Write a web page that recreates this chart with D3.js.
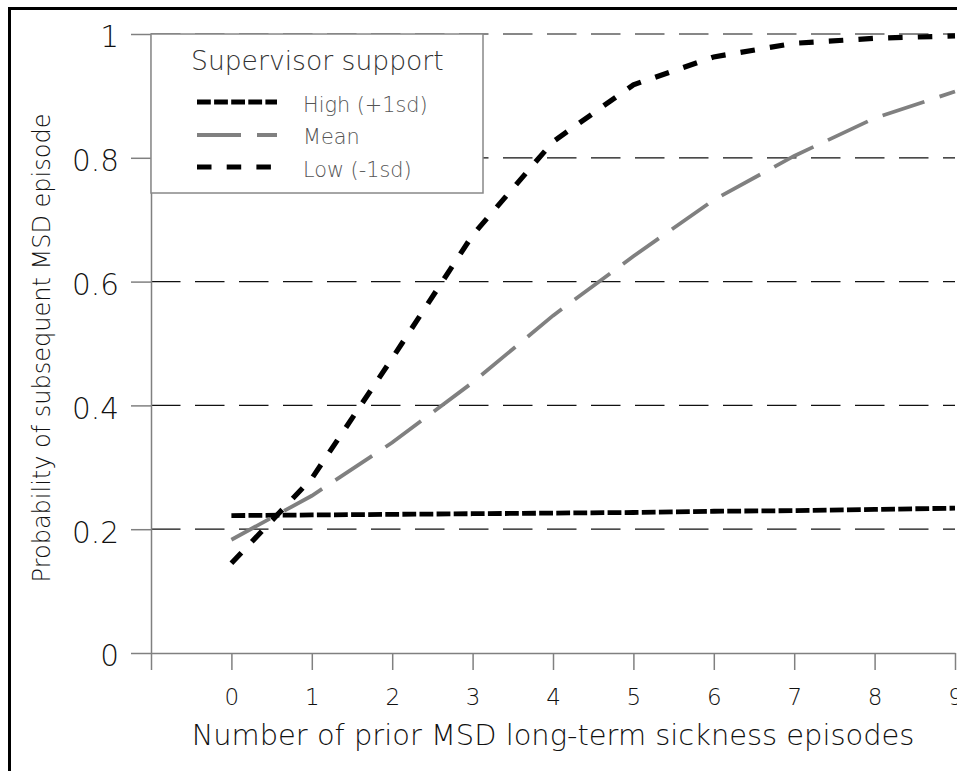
<!DOCTYPE html>
<html>
<head>
<meta charset="utf-8">
<script src="https://cdn.jsdelivr.net/npm/d3@7/dist/d3.min.js"></script>
<style>
  html, body { margin: 0; padding: 0; background: #fff; overflow: hidden; }
  svg { display: block; }
  text { font-family: "DejaVu Sans", Verdana, sans-serif; font-weight: 200; }
</style>
</head>
<body>
<svg id="chart" width="957" height="771"></svg>
<script>
// ---- data ----
const episodes = [0, 1, 2, 3, 4, 5, 6, 7, 8, 9];
const highSupport = [0.222, 0.223, 0.224, 0.225, 0.226, 0.227, 0.229, 0.230, 0.232, 0.234];
const meanSupport = [0.183, 0.254, 0.340, 0.437, 0.545, 0.641, 0.732, 0.803, 0.864, 0.907];
const lowSupport  = [0.145, 0.282, 0.476, 0.675, 0.826, 0.918, 0.963, 0.985, 0.993, 0.997];
const seriesNames = ["High (+1sd)", "Mean", "Low (-1sd)"];
const yTicks = [0, 0.2, 0.4, 0.6, 0.8, 1];
const xTicks = [-1, 0, 1, 2, 3, 4, 5, 6, 7, 8, 9];
const gridValues = [0.2, 0.4, 0.6, 0.8, 1];
const legendTitle = "Supervisor support";
const xTitle = "Number of prior MSD long-term sickness episodes";
const yTitle = "Probability of subsequent MSD episode";

// ---- styles ----
const styles = [
  { color: "#000", width: 4.8, dash: "13.8,3.3" },
  { color: "#808080", width: 3.8, dash: "44,16" },
  { color: "#000", width: 5.2, dash: "14.5,15.2" }
];

const svg = d3.select("#chart");
const x = d3.scaleLinear().domain([-1, 9]).range([151, 955]);
const y = d3.scaleLinear().domain([0, 1]).range([653, 34]);

// outer frame
svg.append("rect")
  .attr("x", 9.5).attr("y", 8.5)
  .attr("width", 3000).attr("height", 3000)
  .attr("fill", "none").attr("stroke", "#000").attr("stroke-width", 3);

// gridlines
svg.append("g").selectAll("line").data(gridValues).join("line")
  .attr("x1", x(-1)).attr("x2", x(9))
  .attr("y1", d => y(d)).attr("y2", d => y(d))
  .attr("stroke", "#111").attr("stroke-width", 1.2)
  .attr("stroke-dasharray", "29.5,14.5");

// axes
const yAxis = svg.append("g").attr("transform", `translate(${x(-1)},0)`)
  .call(d3.axisLeft(y).tickValues(yTicks).tickSize(20).tickSizeOuter(0).tickPadding(12)
        .tickFormat(d => d3.format("~g")(d)));
yAxis.select(".domain").attr("stroke", "#808080").attr("stroke-width", 1.5);
yAxis.selectAll(".tick line").attr("stroke", "#808080").attr("stroke-width", 1.5);
yAxis.selectAll(".tick text").attr("font-size", 29.5).attr("fill", "#111")
  .attr("dy", "0.44em").style("font-family", "'DejaVu Sans', sans-serif").style("font-weight", 200);

const xAxis = svg.append("g").attr("transform", `translate(0,${y(0)})`)
  .call(d3.axisBottom(x).tickValues(xTicks).tickSize(17).tickSizeOuter(0).tickPadding(19)
        .tickFormat(d => d < 0 ? "" : d));
xAxis.select(".domain").attr("stroke", "#808080").attr("stroke-width", 1.5);
xAxis.selectAll(".tick line").attr("stroke", "#808080").attr("stroke-width", 1.5);
xAxis.selectAll(".tick text").attr("font-size", 23).attr("fill", "#111")
  .style("font-family", "'DejaVu Sans', sans-serif").style("font-weight", 200);

// axis titles
svg.append("text").attr("x", (x(-1) + x(9)) / 2).attr("y", 745)
  .attr("text-anchor", "middle").attr("font-size", 28.9).attr("fill", "#111").text(xTitle);
svg.append("text").attr("transform", "translate(50,348) rotate(-90)")
  .attr("text-anchor", "middle").attr("font-size", 24).attr("fill", "#111").text(yTitle);

// lines
const allSeries = [highSupport, meanSupport, lowSupport];
const line = d3.line().x((d, i) => x(episodes[i])).y(d => y(d));
svg.append("g").selectAll("path").data(allSeries).join("path")
  .attr("d", d => line(d))
  .attr("fill", "none")
  .attr("stroke", (d, i) => styles[i].color)
  .attr("stroke-width", (d, i) => styles[i].width)
  .attr("stroke-dasharray", (d, i) => styles[i].dash);

// legend
const lg = svg.append("g");
lg.append("rect").attr("x", 151).attr("y", 34).attr("width", 332).attr("height", 159)
  .attr("fill", "#fff").attr("stroke", "#888").attr("stroke-width", 1.5);
lg.append("text").attr("x", 191).attr("y", 70).attr("font-size", 26.6).attr("fill", "#333").text(legendTitle);
const rowY = [102, 135, 167];
const textY = [111.5, 144, 176.5];
seriesNames.forEach((name, i) => {
  lg.append("line").attr("x1", 197).attr("x2", 277).attr("y1", rowY[i]).attr("y2", rowY[i])
    .attr("stroke", styles[i].color).attr("stroke-width", styles[i].width)
    .attr("stroke-dasharray", styles[i].dash);
  lg.append("text").attr("x", 303).attr("y", textY[i]).attr("font-size", 20.8)
    .attr("fill", "#555").text(name);
});
</script>
</body>
</html>
